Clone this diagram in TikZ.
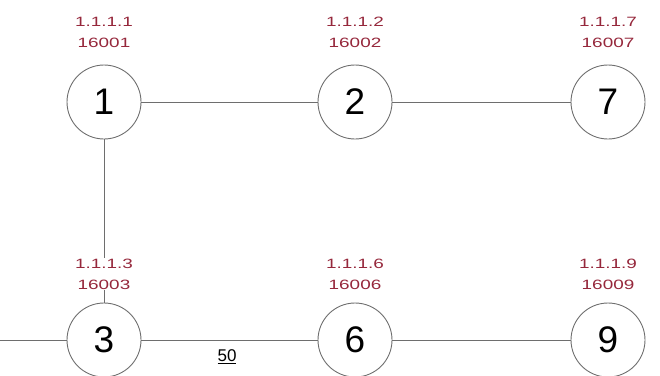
\documentclass[tikz,border=0pt]{standalone}
\usepackage{fontspec}
\setmainfont{Liberation Sans}
\definecolor{lblred}{RGB}{150,40,60}
\definecolor{linegray}{RGB}{110,110,110}
\begin{document}
\begin{tikzpicture}[x=1pt,y=-1pt,
  rnode/.style={circle,draw=linegray,line width=0.9pt,minimum size=74pt,inner sep=0pt,
    font=\fontsize{37}{40}\selectfont},
  addr/.style={fill=white,inner sep=1pt,text=lblred,align=center,
    font=\fontsize{13.5}{21}\selectfont},
  link/.style={draw=linegray,line width=0.8pt}]
\useasboundingbox (0,0) rectangle (660,375);
\node[rnode] (n1) at (104,102) {1};
\node[rnode] (n2) at (355,102) {2};
\node[rnode] (n7) at (608,102) {7};
\node[rnode] (n3) at (104,340) {3};
\node[rnode] (n6) at (355,340) {6};
\node[rnode] (n9) at (608,340) {9};
\coordinate (lft) at (0,340);
\draw[link] (n1) -- (n2);
\draw[link] (n2) -- (n7);
\draw[link] (n1) -- (n3);
\draw[link] (lft) -- (n3);
\draw[link] (n3) -- (n6);
\draw[link] (n6) -- (n9);
\node[addr] (a1) at (104,32) {\scalebox{1.4}[1]{1.1.1.1}\\\scalebox{1.4}[1]{16001}};
\node[addr] (a2) at (355,32) {\scalebox{1.4}[1]{1.1.1.2}\\\scalebox{1.4}[1]{16002}};
\node[addr] (a7) at (608,32) {\scalebox{1.4}[1]{1.1.1.7}\\\scalebox{1.4}[1]{16007}};
\node[addr] (a3) at (104,274) {\scalebox{1.4}[1]{1.1.1.3}\\\scalebox{1.4}[1]{16003}};
\node[addr] (a6) at (355,274) {\scalebox{1.4}[1]{1.1.1.6}\\\scalebox{1.4}[1]{16006}};
\node[addr] (a9) at (608,274) {\scalebox{1.4}[1]{1.1.1.9}\\\scalebox{1.4}[1]{16009}};
\node[font=\fontsize{17}{19}\selectfont] (w) at (227,357) {\underline{50}};
\end{tikzpicture}
\end{document}
